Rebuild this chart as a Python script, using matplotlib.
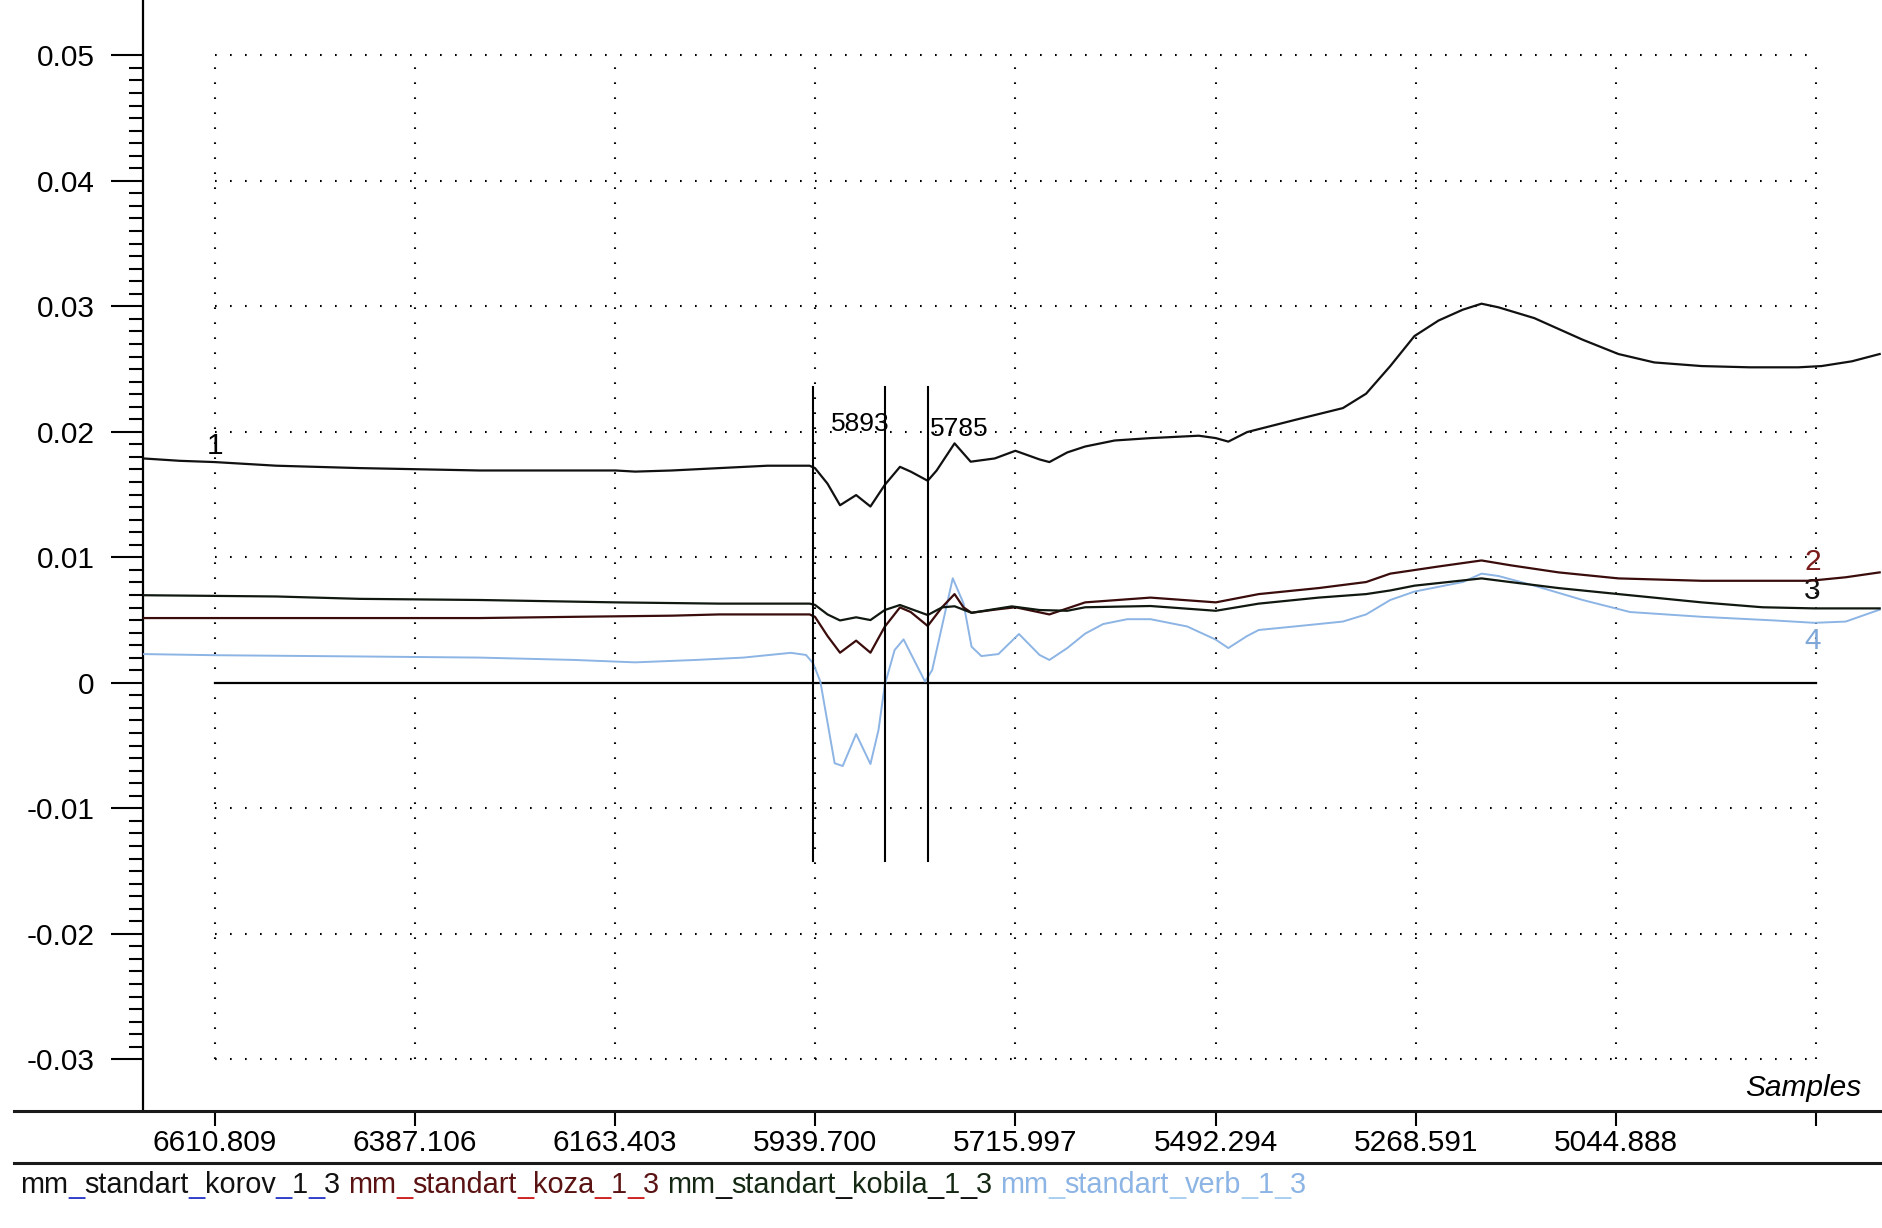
import matplotlib
matplotlib.use("Agg")
import matplotlib.pyplot as plt
from matplotlib.lines import Line2D

plt.rcParams['font.family'] = ['Liberation Sans', 'DejaVu Sans']

# --- data (x in samples, y in signal units) ---
korov_x = [6691, 6650, 6611, 6542, 6449, 6315, 6163, 6141, 6100, 6047, 5993, 5946, 5940,
           5926, 5912, 5894, 5878, 5862, 5845, 5833, 5814, 5804, 5784, 5766, 5739, 5716,
           5689, 5678, 5658, 5638, 5605, 5565, 5511, 5492, 5478, 5457, 5404, 5350, 5324,
           5297, 5270, 5243, 5216, 5195, 5176, 5136, 5082, 5042, 5002, 4949, 4895, 4841,
           4815, 4781, 4750]
korov_y = [0.01788, 0.01769, 0.01759, 0.01730, 0.01711, 0.01692, 0.01692, 0.01683, 0.01692,
           0.01711, 0.01730, 0.01730, 0.01711, 0.01587, 0.01415, 0.01496, 0.01405, 0.01577,
           0.01721, 0.01683, 0.01610, 0.01692, 0.01908, 0.01762, 0.01788, 0.01849, 0.01780,
           0.01759, 0.01836, 0.01883, 0.01931, 0.01950, 0.01969, 0.01950, 0.01922, 0.01998,
           0.02094, 0.02189, 0.02304, 0.02524, 0.02763, 0.02887, 0.02973, 0.03021, 0.02992,
           0.02906, 0.02734, 0.02620, 0.02553, 0.02524, 0.02514, 0.02514, 0.02524, 0.02562,
           0.02620]

koza_x = [6691, 6315, 6208, 6100, 6047, 5946, 5940, 5926, 5912, 5894, 5878, 5862, 5845,
          5833, 5814, 5798, 5784, 5774, 5765, 5739, 5716, 5678, 5638, 5565, 5492, 5444,
          5377, 5324, 5297, 5243, 5195, 5163, 5109, 5042, 4949, 4828, 4788, 4750]
koza_y = [0.00516, 0.00516, 0.00526, 0.00535, 0.00545, 0.00545, 0.00526, 0.00373, 0.00240,
          0.00336, 0.00240, 0.00447, 0.00601, 0.00564, 0.00453, 0.00602, 0.00707, 0.00601,
          0.00558, 0.00583, 0.00602, 0.00545, 0.00641, 0.00679, 0.00641, 0.00707, 0.00755,
          0.00803, 0.00870, 0.00927, 0.00975, 0.00937, 0.00880, 0.00832, 0.00813, 0.00813,
          0.00841, 0.00880]

kobila_x = [6691, 6542, 6449, 6315, 6163, 6047, 5946, 5940, 5926, 5912, 5894, 5878, 5862,
            5845, 5814, 5798, 5784, 5765, 5720, 5689, 5658, 5638, 5565, 5492, 5444, 5377,
            5324, 5297, 5270, 5195, 5163, 5109, 5042, 4949, 4881, 4823, 4750]
kobila_y = [0.00698, 0.00688, 0.00669, 0.00660, 0.00641, 0.00631, 0.00631, 0.00621, 0.00545,
            0.00497, 0.00522, 0.00500, 0.00580, 0.00620, 0.00540, 0.00601, 0.00610, 0.00558,
            0.00609, 0.00580, 0.00574, 0.00602, 0.00612, 0.00574, 0.00631, 0.00679, 0.00707,
            0.00736, 0.00774, 0.00832, 0.00803, 0.00755, 0.00707, 0.00641, 0.00602, 0.00593,
            0.00593]

verb_x = [6691, 6611, 6449, 6315, 6208, 6141, 6074, 6020, 5967, 5950, 5942, 5934, 5918,
          5909, 5894, 5878, 5869, 5862, 5851, 5841, 5817, 5809, 5786, 5774, 5765, 5754,
          5735, 5712, 5689, 5678, 5658, 5638, 5618, 5591, 5565, 5524, 5492, 5478, 5457,
          5444, 5404, 5350, 5324, 5297, 5270, 5216, 5195, 5176, 5136, 5082, 5029, 4949,
          4868, 4823, 4788, 4750]
verb_y = [0.00229, 0.00220, 0.00210, 0.00201, 0.00182, 0.00163, 0.00182, 0.00201, 0.00239,
          0.00222, 0.00155, 0.00010, -0.00641, -0.00663, -0.00408, -0.00647, -0.00376,
          -0.00017, 0.00261, 0.00346, 0.00010, 0.00102, 0.00833, 0.00633, 0.00288, 0.00213,
          0.00229, 0.00389, 0.00222, 0.00182, 0.00277, 0.00392, 0.00468, 0.00507, 0.00507,
          0.00449, 0.00344, 0.00277, 0.00373, 0.00421, 0.00449, 0.00488, 0.00545, 0.00660,
          0.00727, 0.00803, 0.00870, 0.00851, 0.00774, 0.00660, 0.00564, 0.00526, 0.00497,
          0.00478, 0.00488, 0.00583]

x_ticks = [6610.809, 6387.106, 6163.403, 5939.700, 5715.997, 5492.294, 5268.591, 5044.888, 4821.185]
x_tick_labels = ["6610.809", "6387.106", "6163.403", "5939.700", "5715.997",
                 "5492.294", "5268.591", "5044.888", ""]
y_ticks = [-0.03, -0.02, -0.01, 0, 0.01, 0.02, 0.03, 0.04, 0.05]
y_tick_labels = ["-0.03", "-0.02", "-0.01", "0", "0.01", "0.02", "0.03", "0.04", "0.05"]

cursor_x = [5942.7, 5861.5, 5813.9]
cursor_top, cursor_bottom = 0.0236, -0.0142
cursor_labels = [("5893", 5889, 0.0206), ("5785", 5779, 0.0202)]

legend_names = ["mm_standart_korov_1_3", "mm_standart_koza_1_3",
                "mm_standart_kobila_1_3", "mm_standart_verb_1_3"]
legend_text_colors = ["#111111", "#5a1212", "#142814", "#8cb4e4"]
legend_under_colors = ["#3040c8", "#d02424", "#111111", "#a8cff2"]

W, H = 1882, 1228
FS = 21.5
LFS = 20.8

fig = plt.figure(figsize=(W / 100, H / 100), dpi=100)
ax = fig.add_axes([143 / W, (H - 1111) / H, (W - 143) / W, 1111 / H])
ax.set_xlim(6691.06, 4747.4)
ax.set_ylim(-0.03412, 0.05441)

for s in ["top", "right", "bottom"]:
    ax.spines[s].set_visible(False)
ax.spines["left"].set_linewidth(1.6)

# dotted grid
dots = (0, (0.8, 6.4))
for yv in y_ticks:
    if yv != 0:
        ax.plot([x_ticks[0], x_ticks[-1]], [yv, yv], color="black", lw=1.5, ls=dots, zorder=1)
for xv in x_ticks:
    ax.plot([xv, xv], [y_ticks[0], y_ticks[-1]], color="black", lw=1.5, ls=dots, zorder=1)
ax.plot([x_ticks[0], x_ticks[-1]], [0, 0], color="black", lw=1.6, zorder=2)

# series
ax.plot(verb_x, verb_y, color="#8cb4e4", lw=1.4, zorder=3)
ax.plot(koza_x, koza_y, color="#3a0c0c", lw=1.6, zorder=4)
ax.plot(kobila_x, kobila_y, color="#101810", lw=1.6, zorder=4)
ax.plot(korov_x, korov_y, color="#111111", lw=1.6, zorder=4)

# cursors
for cx in cursor_x:
    ax.plot([cx, cx], [cursor_bottom, cursor_top], color="black", lw=1.5, zorder=5)
for txt, tx, ty in cursor_labels:
    ax.text(tx, ty, txt, fontsize=19, ha="center", va="center", zorder=6)

# series numbers
ax.text(6611, 0.0189, "1", fontsize=FS, ha="center", va="center")
ax.text(4825, 0.0096, "2", fontsize=FS, ha="center", va="center", color="#7b1c1c")
ax.text(4825, 0.0073, "3", fontsize=FS, ha="center", va="center", color="#111111")
ax.text(4825, 0.0033, "4", fontsize=FS, ha="center", va="center", color="#7fa8d8")

# ticks
ax.set_xticks(x_ticks)
ax.set_xticklabels(x_tick_labels)
ax.set_yticks(y_ticks)
ax.set_yticklabels(y_tick_labels)
minor = [round(-0.03 + i * 0.001, 4) for i in range(81) if i % 10 != 0]
ax.set_yticks(minor, minor=True)
ax.tick_params(axis="y", which="major", direction="out", length=23, width=1.5, pad=12,
               labelsize=FS)
ax.tick_params(axis="y", which="minor", direction="out", length=10, width=1.5)
ax.tick_params(axis="x", which="major", direction="out", length=11, width=1.5, pad=2,
               labelsize=FS)

# separator lines (figure fraction coordinates)
for yy in [1111, 1163]:
    fig.add_artist(Line2D([14 / W, 1], [1 - yy / H, 1 - yy / H], color="#1a1a1a", lw=2.2,
                          transform=fig.transFigure))

fig.text(1861 / W, 1 - 1088 / H, "Samples", fontsize=FS, style="italic",
         ha="right", va="center")

# legend line at the bottom, each piece placed after the previous one
renderer = fig.canvas.get_renderer()
xpos = 20 / W
base_y = 1 - 1193 / H
space = 0.278 * LFS * 100 / 72 / W
for name, tcol, ucol in zip(legend_names, legend_text_colors, legend_under_colors):
    parts = name.split("_")
    for i, p in enumerate(parts):
        t = fig.text(xpos, base_y, p, fontsize=LFS, color=tcol, ha="left", va="baseline")
        xpos = t.get_window_extent(renderer).x1 / W
        if i < len(parts) - 1:
            u = fig.text(xpos, base_y, "_", fontsize=LFS, color=ucol, ha="left", va="baseline")
            xpos = u.get_window_extent(renderer).x1 / W
    xpos += space

fig.savefig("out.png", dpi=100)
